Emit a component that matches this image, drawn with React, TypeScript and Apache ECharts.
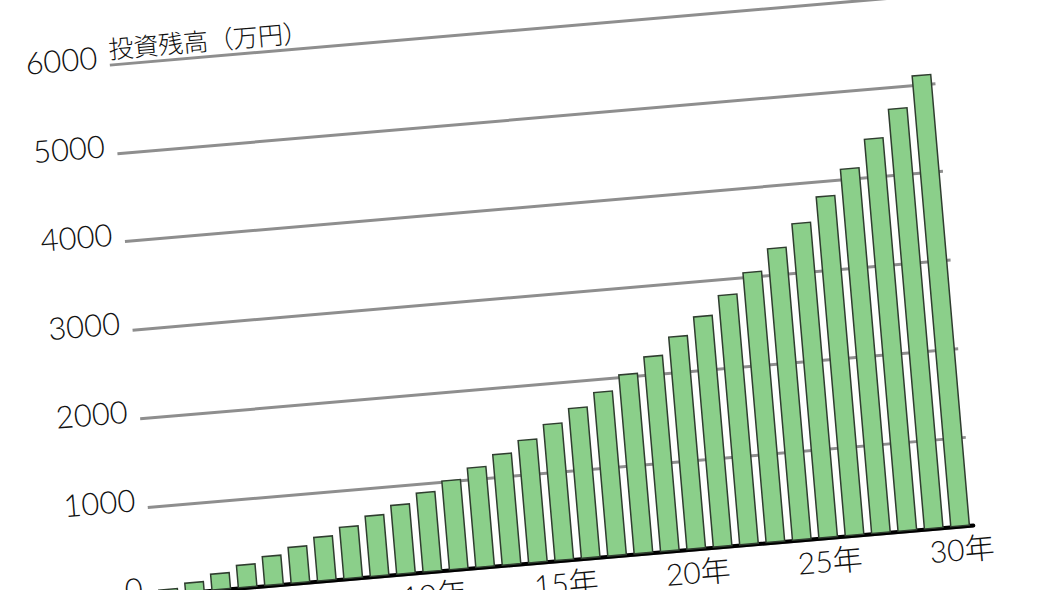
import React, { useEffect, useRef } from "react";
import * as echarts from "echarts";

// 年数（0年〜30年）
const years = [
  "0年", "1年", "2年", "3年", "4年", "5年", "6年", "7年", "8年", "9年", "10年",
  "11年", "12年", "13年", "14年", "15年", "16年", "17年", "18年", "19年", "20年",
  "21年", "22年", "23年", "24年", "25年", "26年", "27年", "28年", "29年", "30年",
];

// 投資残高（万円）
const balance = [
  68, 120, 196, 269, 342, 421, 509, 597, 698, 794, 907,
  1018, 1139, 1265, 1399, 1554, 1709, 1865, 2038, 2216, 2414,
  2617, 2833, 3064, 3310, 3567, 3844, 4131, 4445, 4758, 5109,
];

const yTicks = [0, 1000, 2000, 3000, 4000, 5000, 6000];

const FONT = "Lato, 'Noto Sans CJK JP', sans-serif";

const App: React.FC = () => {
  const chartRef = useRef<HTMLDivElement>(null);

  useEffect(() => {
    if (!chartRef.current) return;
    const chart = echarts.init(chartRef.current, undefined, { renderer: "svg" });

    const option = {
      animation: false,
      backgroundColor: "#ffffff",
      grid: { left: 131, right: 98, top: 30, bottom: 77 },
      xAxis: {
        type: "category",
        data: years,
        axisLine: { show: true, lineStyle: { color: "#000000", width: 4 } },
        axisTick: { show: false },
        axisLabel: {
          // 画面に見えるのは10年以降の5年刻み
          interval: (index: number) => index >= 10 && index % 5 === 0,
          margin: 7,
          color: "#111111",
          fontSize: 30,
          fontWeight: 300,
          fontFamily: FONT,
        },
        splitLine: { show: false },
      },
      yAxis: {
        type: "value",
        min: yTicks[0],
        max: yTicks[yTicks.length - 1],
        interval: 1000,
        name: "投資残高（万円）",
        nameLocation: "end",
        nameGap: 17,
        nameTextStyle: {
          align: "left",
          verticalAlign: "middle",
          color: "#111111",
          fontSize: 25,
          fontWeight: 300,
          fontFamily: "'Noto Sans CJK JP', sans-serif",
        },
        axisLine: { show: false },
        axisTick: { show: false },
        axisLabel: {
          margin: 12,
          color: "#111111",
          fontSize: 31,
          fontWeight: 300,
          fontFamily: FONT,
          verticalAlign: "bottom",
          lineHeight: 18,
          formatter: (v: number) => String(v),
        },
        splitLine: { show: true, lineStyle: { color: "#8e8e8e", width: 3 } },
      },
      series: [
        {
          name: "投資残高",
          type: "bar",
          data: balance,
          barWidth: "76%",
          itemStyle: {
            color: "#8bcf8a",
            borderColor: "#2f3d2f",
            borderWidth: 1.5,
          },
        },
      ],
    };

    chart.setOption(option as any);

    const handleResize = () => chart.resize();
    window.addEventListener("resize", handleResize);
    return () => {
      window.removeEventListener("resize", handleResize);
      chart.dispose();
    };
  }, []);

  return (
    <div
      style={{
        position: "fixed",
        left: 0,
        top: 0,
        width: 1050,
        height: 590,
        overflow: "hidden",
        background: "#ffffff",
      }}
    >
      <div
        ref={chartRef}
        style={{
          position: "absolute",
          left: 0,
          top: 0,
          width: 1050,
          height: 640,
          transform: "rotate(-4.9deg)",
          transformOrigin: "525px 295px",
        }}
      />
    </div>
  );
};

export default App;
